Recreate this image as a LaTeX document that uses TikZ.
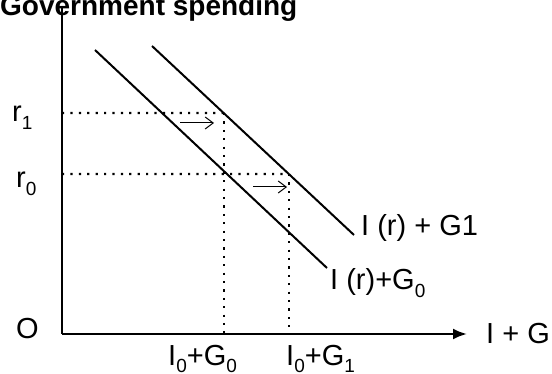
\documentclass[tikz,border=0pt]{standalone}
\usepackage{fontspec}
\setmainfont{Liberation Sans}
\usetikzlibrary{arrows.meta, calc}
\newcommand{\lowsub}[1]{\raisebox{-8pt}{\fontsize{19}{19}\selectfont #1}}

\begin{document}
\begin{tikzpicture}[
    x=1pt, y=-1pt,
    every node/.style={font=\fontsize{29}{32}\selectfont, inner sep=0pt, anchor=base west},
    axis/.style={line width=2.4pt},
    sched/.style={line width=2pt},
    guide/.style={line width=2.2pt, dash pattern=on 2.2pt off 6.2pt},
    moveline/.style={line width=1pt, -{Straight Barb[length=8pt, width=12pt]}},
]
    \useasboundingbox (0,0) rectangle (552,374);

    % Title
    \node[font=\fontsize{28}{32}\selectfont\bfseries] (title) at (0,16) {Government spending};

    % Axes
    \coordinate (O) at (62,334);
    \coordinate (ytop) at (62,6);
    \coordinate (xend) at (467,334);
    \draw[axis] (ytop) -- (O);
    \draw[axis, -{Latex[length=14pt, width=11pt]}] (O) -- (xend);

    % Investment + government schedules
    \coordinate (a0) at (95,50);
    \coordinate (a1) at (327,268);
    \coordinate (b0) at (152,46);
    \coordinate (b1) at (354,235);
    \draw[sched] (a0) -- (a1);
    \draw[sched] (b0) -- (b1);

    % Interest rate levels
    \coordinate (r1) at (62,113);
    \coordinate (r0) at (62,174);
    \coordinate (r1far) at (xend |- r1);
    \coordinate (r0far) at (xend |- r0);
    \coordinate (e1) at (intersection of b0--b1 and r1--r1far);
    \coordinate (e0) at (intersection of a0--a1 and r0--r0far);
    \coordinate (e2) at (intersection of b0--b1 and r0--r0far);
    \coordinate (e1x) at (e1 |- O);
    \coordinate (e2x) at (e2 |- O);

    % Dotted guides
    \draw[guide] (r1) -- (e1);
    \draw[guide] (r0) -- (e2);
    \draw[guide] (e1) -- (e1x);
    \draw[guide] (e2) -- (e2x);

    % Shift arrows
    \coordinate (s1a) at (180,123);
    \coordinate (s1b) at (214,123);
    \coordinate (s2a) at (253,187);
    \coordinate (s2b) at (287,187);
    \draw[moveline] (s1a) -- (s1b);
    \draw[moveline] (s2a) -- (s2b);

    % Labels
    \node (lr1) at (12,122) {r\lowsub{1}};
    \node (lr0) at (16,188) {r\lowsub{0}};
    \node (lO) at (16,338) {O};
    \node (lG1) at (361,236) {I (r) + G1};
    \node (lG0) at (330,290) {I (r)+G\lowsub{0}};
    \node (lx) at (486,343) {I + G};
    \node (lq0) at (168,365) {I\lowsub{0}+G\lowsub{0}};
    \node (lq1) at (286,365) {I\lowsub{0}+G\lowsub{1}};
\end{tikzpicture}
\end{document}
